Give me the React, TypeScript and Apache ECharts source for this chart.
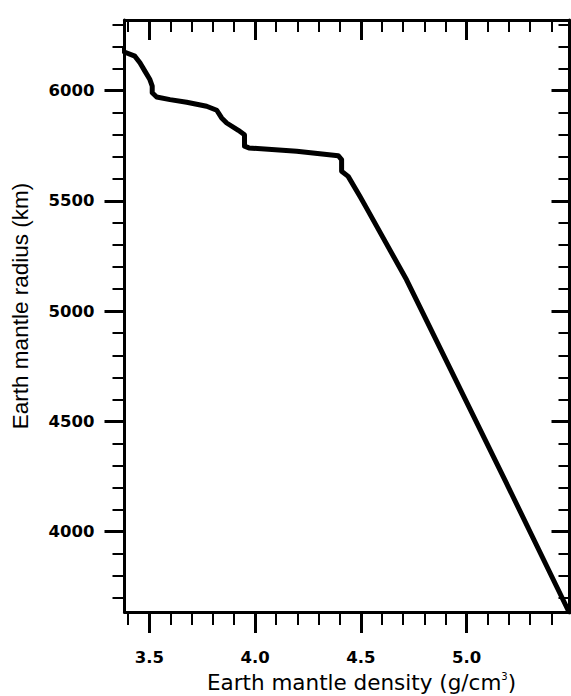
import React, { useEffect, useRef } from 'react';
import * as echarts from 'echarts';

// Density (g/cm^3) vs radius (km)
const density = [3.37, 3.385, 3.432, 3.456, 3.48, 3.503, 3.514, 3.514, 3.535, 3.598, 3.677, 3.771, 3.819, 3.842, 3.866, 3.921, 3.95, 3.95, 3.971, 4.197, 4.393, 4.409, 4.409, 4.44, 4.496, 4.527, 4.716, 5.181, 5.479, 5.486];
const radius = [6183, 6174, 6156, 6126, 6087, 6050, 6020, 5990, 5971, 5959, 5947, 5929, 5911, 5876, 5853, 5820, 5800, 5748, 5740, 5725, 5705, 5687, 5634, 5611, 5520, 5467, 5142, 4234, 3645, 3636];

const xMajor = [3.5, 4.0, 4.5, 5.0];
const xMinor = [3.4, 3.6, 3.7, 3.8, 3.9, 4.1, 4.2, 4.3, 4.4, 4.6, 4.7, 4.8, 4.9, 5.1, 5.2, 5.3, 5.4];
const yMajor = [4000, 4500, 5000, 5500, 6000];
const yMinor = [3700, 3800, 3900, 4100, 4200, 4300, 4400, 4600, 4700, 4800, 4900, 5100, 5200, 5300, 5400, 5600, 5700, 5800, 5900, 6100, 6200, 6300];

const xRange = [3.383, 5.486];
const yRange = [3636, 6320];

const xTitle = 'Earth mantle density (g/cm';
const yTitle = 'Earth mantle radius (km)';

const labelFont = { fontFamily: 'DejaVu Sans', fontWeight: 'bold' as const, fontSize: 16.5, color: '#000' };

function xAxisDef(position: string, values: number[], len: number, w: number, inside: boolean, showLine: boolean, showLabel: boolean) {
  return {
    type: 'value',
    position,
    min: xRange[0],
    max: xRange[1],
    axisLine: { show: showLine, lineStyle: { color: '#000', width: 3 } },
    axisTick: { show: true, customValues: values, length: len, inside, lineStyle: { color: '#000', width: w } },
    axisLabel: showLabel
      ? { show: true, customValues: values, margin: 37, formatter: (v: number) => v.toFixed(1), ...labelFont }
      : { show: false },
    splitLine: { show: false },
  };
}

function yAxisDef(position: string, values: number[], len: number, w: number, inside: boolean, showLine: boolean, showLabel: boolean) {
  return {
    type: 'value',
    position,
    min: yRange[0],
    max: yRange[1],
    axisLine: { show: showLine, lineStyle: { color: '#000', width: 3 } },
    axisTick: { show: true, customValues: values, length: len, inside, lineStyle: { color: '#000', width: w } },
    axisLabel: showLabel
      ? { show: true, customValues: values, margin: 30, formatter: (v: number) => String(v), ...labelFont }
      : { show: false },
    splitLine: { show: false },
  };
}

export default function App() {
  const ref = useRef<HTMLDivElement>(null);
  useEffect(() => {
    if (!ref.current) return;
    const chart = echarts.init(ref.current, null, { renderer: 'svg' });
    const data = density.map((d, i) => [d, radius[i]]);
    chart.setOption({
      animation: false,
      backgroundColor: '#fff',
      grid: { left: 124.5, right: 1.5, top: 20, bottom: 84, containLabel: false, outerBoundsMode: 'none' },
      xAxis: [
        xAxisDef('bottom', xMajor, 21, 3, false, true, true),
        xAxisDef('bottom', xMinor, 13, 2, false, false, false),
        xAxisDef('top', xMajor, 20, 3, true, true, false),
        xAxisDef('top', xMinor, 12, 2, true, false, false),
      ],
      yAxis: [
        yAxisDef('left', yMajor, 20, 3, false, true, true),
        yAxisDef('left', yMinor, 12, 2, false, false, false),
        yAxisDef('right', yMajor, 18, 3, true, true, false),
        yAxisDef('right', yMinor, 11, 2, true, false, false),
      ],
      series: [
        {
          type: 'line',
          xAxisIndex: 0,
          yAxisIndex: 0,
          data,
          showSymbol: false,
          symbol: 'none',
          clip: true,
          lineStyle: { color: '#000', width: 5, join: 'round', cap: 'round' },
        },
      ],
      graphic: [
        {
          type: 'text',
          x: 361.5,
          y: 682.5,
          style: {
            text: '{a|' + xTitle + '}{s|3}{a|)}',
            align: 'center',
            verticalAlign: 'middle',
            fill: '#000',
            rich: {
              a: { fontFamily: 'DejaVu Sans', fontSize: 21.5, fill: '#000', color: '#000' },
              s: { fontFamily: 'DejaVu Sans', fontSize: 10, fill: '#000', color: '#000', verticalAlign: 'top' },
            },
          },
        },
        {
          type: 'text',
          x: 20.5,
          y: 306,
          rotation: Math.PI / 2,
          style: {
            text: yTitle,
            font: '22.5px "Liberation Sans"',
            fontFamily: 'Liberation Sans',
            fontSize: 22.5,
            align: 'center',
            verticalAlign: 'middle',
            fill: '#000',
          },
        },
      ],
    });
    return () => chart.dispose();
  }, []);
  return <div ref={ref} style={{ position: 'absolute', left: 0, top: 0, width: 571, height: 696 }} />;
}
